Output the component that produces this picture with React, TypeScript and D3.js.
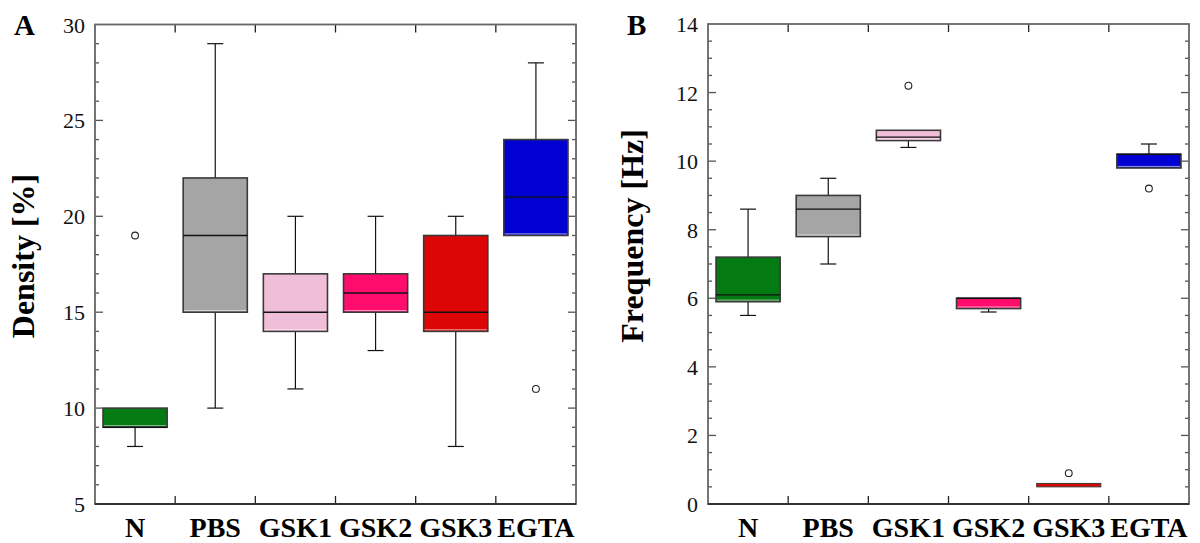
import React from "react";
import * as d3 from "d3";

const categories = ["N", "PBS", "GSK1", "GSK2", "GSK3", "EGTA"];
const colors = ["#037a12", "#a5a5a5", "#f0bed8", "#ff0c6c", "#dc0606", "#0000d2"];

// Panel A: Density [%]
const densityLow = [8, 10, 11, 13, 8, 19];
const densityQ1 = [9, 15, 14, 15, 14, 19];
const densityMedian = [9, 19, 15, 16, 15, 21];
const densityQ3 = [10, 22, 17, 17, 19, 24];
const densityHigh = [10, 29, 20, 20, 20, 28];
const densityOutliers = [[19], [], [], [], [], [11]];
const densityTicks = [5, 10, 15, 20, 25, 30];

// Panel B: Frequency [Hz]
const freqLow = [5.5, 7.0, 10.4, 5.6, 0.5, 9.8];
const freqQ1 = [5.9, 7.8, 10.6, 5.7, 0.5, 9.8];
const freqMedian = [6.1, 8.6, 10.7, 6.0, 0.5, 10.2];
const freqQ3 = [7.2, 9.0, 10.9, 6.0, 0.6, 10.2];
const freqHigh = [8.6, 9.5, 10.9, 6.0, 0.6, 10.5];
const freqOutliers = [[], [], [12.2], [], [0.9], [9.2]];
const freqTicks = [0, 2, 4, 6, 8, 10, 12, 14];

type PanelProps = {
  letter: string;
  title: string;
  left: number;
  right: number;
  top: number;
  bottom: number;
  domain: [number, number];
  ticks: number[];
  minorStep: number;
  low: number[];
  q1: number[];
  median: number[];
  q3: number[];
  high: number[];
  outliers: number[][];
  titleX: number;
  titleY: number;
  letterX: number;
};

const SERIF = "'Liberation Serif', 'Times New Roman', serif";

function Panel(p: PanelProps) {
  const x = d3.scaleBand<string>().domain(categories).range([p.left, p.right]).padding(0);
  const y = d3.scaleLinear().domain(p.domain).range([p.bottom, p.top]);
  const bw = x.bandwidth();
  const boxW = bw * 0.8;
  const capW = 16;
  const minor = d3.range(p.domain[0], p.domain[1] + 1e-9, p.minorStep);
  const boundaries = categories.slice(1).map((c) => x(c) as number);
  return (
    <g>
      {categories.map((c, i) => {
        const cx = (x(c) as number) + bw / 2;
        const yq1 = y(p.q1[i]);
        const yq3 = y(p.q3[i]);
        const h = yq1 - yq3;
        const tiny = h < 5;
        const medInside = p.median[i] > p.q1[i] && p.median[i] < p.q3[i];
        return (
          <g key={c}>
            {p.high[i] > p.q3[i] && (
              <g stroke="#111" strokeWidth={1.2}>
                <line x1={cx} x2={cx} y1={y(p.high[i])} y2={yq3} />
                <line x1={cx - capW / 2} x2={cx + capW / 2} y1={y(p.high[i])} y2={y(p.high[i])} />
              </g>
            )}
            {p.low[i] < p.q1[i] && (
              <g stroke="#111" strokeWidth={1.2}>
                <line x1={cx} x2={cx} y1={yq1} y2={y(p.low[i])} />
                <line x1={cx - capW / 2} x2={cx + capW / 2} y1={y(p.low[i])} y2={y(p.low[i])} />
              </g>
            )}
            <rect
              x={cx - boxW / 2}
              y={yq3}
              width={boxW}
              height={Math.max(h, 2)}
              fill={colors[i]}
              stroke="#3a3a3a"
              strokeWidth={tiny ? 1 : 1.6}
            />
            {h > 4 && (
              <line
                x1={cx - boxW / 2 + 1}
                x2={cx + boxW / 2 - 1}
                y1={yq1 - 1.6}
                y2={yq1 - 1.6}
                stroke="#ffffff"
                strokeOpacity={0.6}
                strokeWidth={1}
              />
            )}
            {(medInside || !tiny) && (
              <line
                x1={cx - boxW / 2}
                x2={cx + boxW / 2}
                y1={y(p.median[i])}
                y2={y(p.median[i])}
                stroke="#111"
                strokeWidth={1.4}
              />
            )}
            {p.outliers[i].map((o, j) => (
              <circle key={j} cx={cx} cy={y(o)} r={3.4} fill="#fff" stroke="#222" strokeWidth={1.1} />
            ))}
          </g>
        );
      })}
      <g stroke="#555" strokeWidth={1.3}>
        {minor.map((v, i) => {
          const isMajor = p.ticks.some((t) => Math.abs(t - v) < 1e-6);
          const len = isMajor ? 8 : 4;
          const yy = y(v);
          if (v === p.domain[0] || Math.abs(v - p.domain[1]) < 1e-6) return null;
          return (
            <g key={i}>
              <line x1={p.left} x2={p.left + len} y1={yy} y2={yy} />
              <line x1={p.right} x2={p.right - len} y1={yy} y2={yy} />
            </g>
          );
        })}
        {boundaries.map((bx, i) => (
          <g key={i}>
            <line x1={bx} x2={bx} y1={p.bottom} y2={p.bottom - 8} stroke="#222" />
            <line x1={bx} x2={bx} y1={p.top} y2={p.top + 8} stroke="#222" />
          </g>
        ))}
      </g>
      <rect
        x={p.left}
        y={p.top}
        width={p.right - p.left}
        height={p.bottom - p.top}
        fill="none"
        stroke="#666"
        strokeWidth={1.8}
      />
      <line x1={p.left} x2={p.right} y1={p.bottom} y2={p.bottom} stroke="#333" strokeWidth={1.8} />
      {p.ticks.map((t) => (
        <text
          key={t}
          x={p.left - 10}
          y={y(t) + 8}
          textAnchor="end"
          fontFamily={SERIF}
          fontSize={22}
          fill="#111"
        >
          {t}
        </text>
      ))}
      {categories.map((c) => (
        <text
          key={c}
          x={(x(c) as number) + bw / 2}
          y={537}
          textAnchor="middle"
          fontFamily={SERIF}
          fontWeight="bold"
          fontSize={28}
          fill="#000"
        >
          {c}
        </text>
      ))}
      <text
        transform={`translate(${p.titleX},${p.titleY}) rotate(-90)`}
        textAnchor="middle"
        fontFamily={SERIF}
        fontWeight="bold"
        fontSize={32}
        fill="#000"
      >
        {p.title}
      </text>
      <text x={p.letterX} y={35} fontFamily={SERIF} fontWeight="bold" fontSize={29} fill="#000">
        {p.letter}
      </text>
    </g>
  );
}

export default function App() {
  return (
    <svg
      width={1200}
      height={543}
      style={{ position: "absolute", left: 0, top: 0, background: "#fff" }}
    >
      <Panel
        letter="A"
        title="Density [%]"
        left={95}
        right={576}
        top={24.5}
        bottom={504}
        domain={[5, 30]}
        ticks={densityTicks}
        minorStep={1}
        low={densityLow}
        q1={densityQ1}
        median={densityMedian}
        q3={densityQ3}
        high={densityHigh}
        outliers={densityOutliers}
        titleX={34}
        titleY={256}
        letterX={14}
      />
      <Panel
        letter="B"
        title="Frequency [Hz]"
        left={708}
        right={1189}
        top={24}
        bottom={504}
        domain={[0, 14]}
        ticks={freqTicks}
        minorStep={0.5}
        low={freqLow}
        q1={freqQ1}
        median={freqMedian}
        q3={freqQ3}
        high={freqHigh}
        outliers={freqOutliers}
        titleX={643}
        titleY={236}
        letterX={627}
      />
    </svg>
  );
}
